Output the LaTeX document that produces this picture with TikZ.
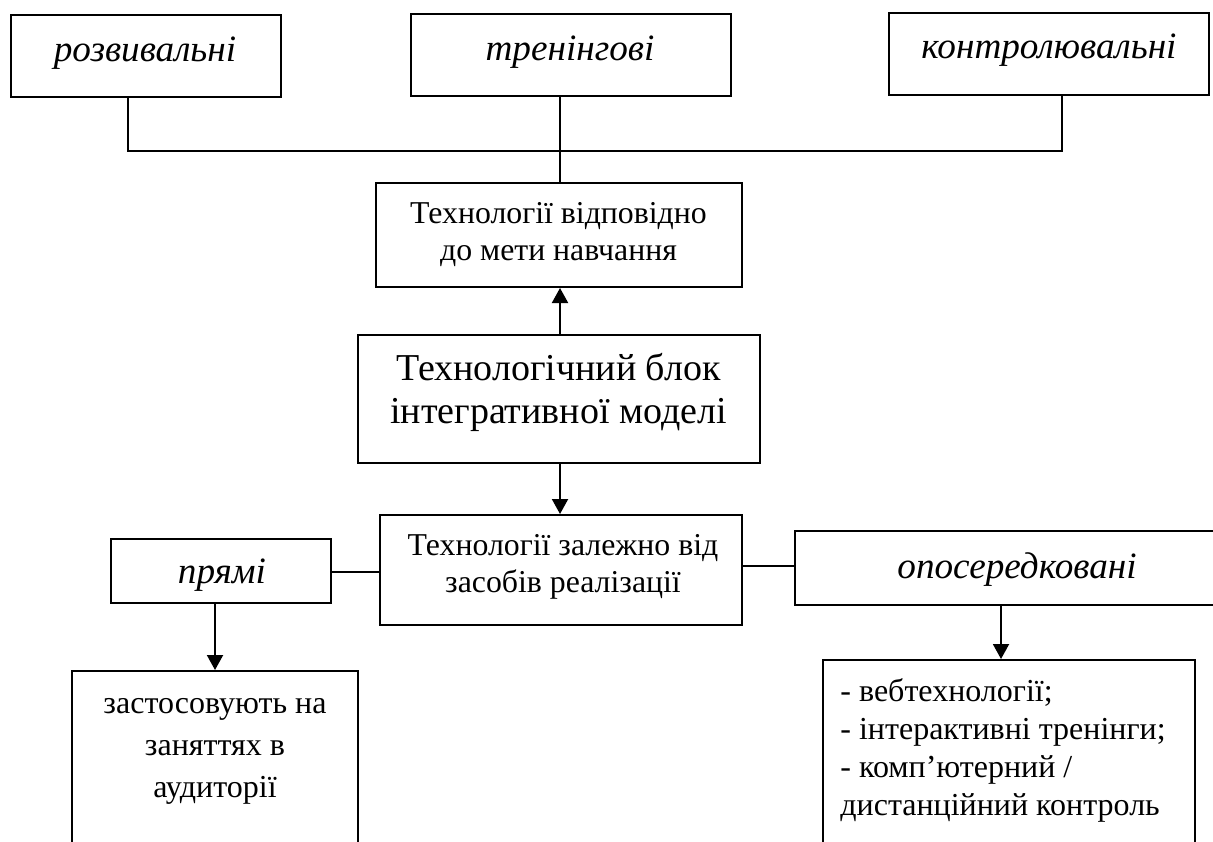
\documentclass[tikz,border=0pt]{standalone}
\usepackage{fontspec}
\setmainfont{Liberation Serif}
\usetikzlibrary{arrows.meta}
\begin{document}
\begin{tikzpicture}[x=0.5pt,y=-0.5pt,
  box/.style={draw, line width=1pt, rectangle, inner sep=0pt},
  conn/.style={line width=1pt},
  arr/.style={line width=1pt, -{Triangle[length=7.5pt,width=8pt]}},
  kind/.style={anchor=base, inner sep=0pt, font=\fontsize{18.6}{21}\selectfont\itshape},
  body/.style={anchor=base, inner sep=0pt, align=center, font=\fontsize{15.9}{18.5}\selectfont},
]
\useasboundingbox (0,0) rectangle (1213,841);
\clip (0,0) rectangle (1213,841);

% boxes
\node[box, minimum width=135pt, minimum height=41pt] (b1) at (146,56) {};
\node[box, minimum width=160pt, minimum height=41pt] (b2) at (571,55) {};
\node[box, minimum width=160pt, minimum height=41pt] (b3) at (1049,54) {};
\node[box, minimum width=183pt, minimum height=52pt] (b4) at (559,235) {};
\node[box, minimum width=201pt, minimum height=64pt] (core) at (559,399) {};
\node[box, minimum width=181pt, minimum height=55pt] (b6) at (561,570) {};
\node[box, minimum width=110pt, minimum height=32pt] (b7) at (221,571) {};
\node[box, minimum width=212pt, minimum height=37pt] (b8) at (1007,568) {};
\node[box, minimum width=143pt, minimum height=95pt] (b9) at (215,766) {};
\node[box, minimum width=186pt, minimum height=100pt] (b10) at (1009,760) {};

% labels (multi-line texts are placed by the baseline of their last line)
\node[kind] (l1) at (145,61) {розвивальні};
\node[kind] (l2) at (570,60) {тренінгові};
\node[kind] (l3) at (1049,58) {контролювальні};
\node[body] (l4) at (558.5,260) {Технології відповідно\\до мети навчання};
\node[body, font=\fontsize{19}{21.5}\selectfont] (l5) at (558.5,423) {Технологічний блок\\інтегративної моделі};
\node[body] (l6) at (563,592) {Технології залежно від\\засобів реалізації};
\node[kind] (l7) at (222,583) {прямі};
\node[kind] (l8) at (1017,578) {опосередковані};
\node[body, font=\fontsize{16}{21}\selectfont] (l9) at (215,797) {застосовують на\\заняттях в\\аудиторії};
\node[body, anchor=base west, align=left, font=\fontsize{16}{19}\selectfont] (l10) at (840,815)
  {- вебтехнології;\\- інтерактивні тренінги;\\- комп’ютерний /\\дистанційний контроль};

% connectors
\coordinate (jl) at (128,151);
\coordinate (jr) at (1062,151);
\coordinate (trunk) at (560,0);
\coordinate (hl) at (0,572);
\coordinate (hr) at (0,566);
\coordinate (a8) at (1001,0);
\draw[conn] (b1.south -| jl) -- (jl) -- (jr) -- (b3.south -| jr);
\draw[conn] (b2.south -| trunk) -- (b4.north -| trunk);
\draw[arr] (core.north -| trunk) -- (b4.south -| trunk);
\draw[arr] (core.south -| trunk) -- (b6.north -| trunk);
\draw[conn] (b7.east |- hl) -- (b6.west |- hl);
\draw[conn] (b6.east |- hr) -- (b8.west |- hr);
\draw[arr] (b9.north |- b7.south) -- (b9.north);
\draw[arr] (b8.south -| a8) -- (b10.north -| a8);
\end{tikzpicture}
\end{document}
